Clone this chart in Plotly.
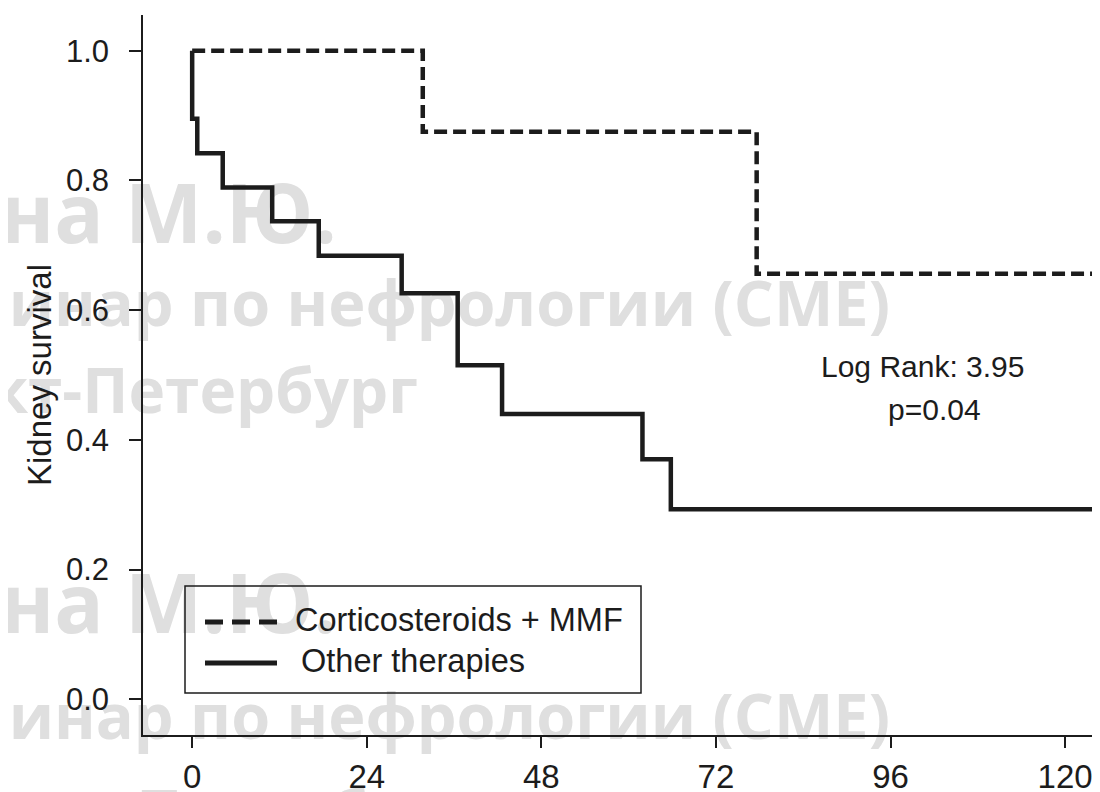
import plotly.graph_objects as go

# ---------------- data ----------------
cm_months = [0, 31.7, 77.6, 126]
cm_survival = [1.0, 0.875, 0.656, 0.656]

other_months = [0, 0, 0.7, 4.2, 11, 17.4, 28.8, 36.5, 42.6, 61.9, 65.8, 126]
other_survival = [1.0, 0.895, 0.842, 0.789, 0.737, 0.684, 0.626, 0.515, 0.44, 0.37, 0.293, 0.293]

series_names = ["Corticosteroids + MMF", "Other therapies"]
x_ticks = [0, 24, 48, 72, 96, 120]
y_ticks = [0.0, 0.2, 0.4, 0.6, 0.8, 1.0]
y_title = "Kidney survival"
stats_text = ["Log Rank: 3.95", "p=0.04"]
watermark_lines = ["на М.Ю.", "Семинар по нефрологии (СМЕ)", "Санкт-Петербург",
                   "на М.Ю.", "Семинар по нефрологии (СМЕ)", "Санкт-Петербург"]

# ---------------- layout geometry ----------------
# The page body has an 8px margin, so the figure is drawn 8px smaller and
# all reference-pixel positions are converted relative to the plot area.
OFF = 8
W, H = 1100 - OFF, 792 - OFF
REF_L, REF_R, REF_T, REF_B = 143, 1100, 15, 735
ML, MR, MT, MB = REF_L - OFF, 0, REF_T - OFF, 792 - REF_B
PW, PH = REF_R - REF_L, REF_B - REF_T
FONT = "Liberation Sans, Arial, Helvetica, sans-serif"
INK = "#1c1c1c"


def px(x):
    return (x - REF_L) / PW


def py(y):
    return (REF_B - y) / PH


fig = go.Figure()
fig.add_trace(go.Scatter(x=cm_months, y=cm_survival, mode="lines", line_shape="hv",
                         line=dict(color=INK, width=4.5, dash="13px,6px"),
                         name=series_names[0], showlegend=False))
fig.add_trace(go.Scatter(x=other_months, y=other_survival, mode="lines", line_shape="hv",
                         line=dict(color=INK, width=4.5),
                         name=series_names[1], showlegend=False))

shapes = []
# watermark (below traces)
wm_specs = [
    # text, anchor side, anchor px x, center px y, size
    (watermark_lines[0], "left", -3, 217, 82),
    (watermark_lines[1], "right", 893, 305, 63),
    (watermark_lines[2], "right", 421, 393, 62),
    (watermark_lines[3], "left", -3, 607, 82),
    (watermark_lines[4], "right", 893, 718, 63),
    (watermark_lines[5], "right", 475, 815, 62),
]
for text, side, ax, cy, size in wm_specs:
    if side == "left":
        x0, x1, pos = ax, ax + 1000, "middle left"
    else:
        x0, x1, pos = ax - 1200, ax, "middle right"
    shapes.append(dict(type="rect", xref="paper", yref="paper",
                       x0=px(x0), x1=px(x1), y0=py(cy + 50), y1=py(cy - 50),
                       line=dict(width=0), fillcolor="rgba(0,0,0,0)", layer="below",
                       label=dict(text=text, textposition=pos, padding=0,
                                  font=dict(family="Open Sans", size=size,
                                            color="#dfdfdf", weight="bold"))))

# custom legend
shapes.append(dict(type="rect", xref="paper", yref="paper",
                   x0=px(185), x1=px(641), y0=py(693), y1=py(586),
                   line=dict(color=INK, width=1.5), fillcolor="rgba(0,0,0,0)", layer="above"))
shapes.append(dict(type="line", xref="paper", yref="paper",
                   x0=px(205), x1=px(277), y0=py(622), y1=py(622),
                   line=dict(color=INK, width=5, dash="18px,9px"), layer="above"))
shapes.append(dict(type="line", xref="paper", yref="paper",
                   x0=px(205), x1=px(277), y0=py(663), y1=py(663),
                   line=dict(color=INK, width=5), layer="above"))

annotations = [
    dict(xref="paper", yref="paper", x=px(293), y=py(620), text=series_names[0],
         showarrow=False, xanchor="left", yanchor="middle",
         font=dict(family=FONT, size=32.5, color=INK)),
    dict(xref="paper", yref="paper", x=px(299), y=py(661), text=series_names[1],
         showarrow=False, xanchor="left", yanchor="middle",
         font=dict(family=FONT, size=32.5, color=INK)),
    dict(xref="x", yref="y", x=100.4, y=0.513, text=stats_text[0],
         showarrow=False, xanchor="center", yanchor="middle",
         font=dict(family=FONT, size=30, color=INK)),
    dict(xref="x", yref="y", x=102.0, y=0.447, text=stats_text[1],
         showarrow=False, xanchor="center", yanchor="middle",
         font=dict(family=FONT, size=30, color=INK)),
]

fig.update_layout(
    width=W, height=H,
    margin=dict(l=ML, r=MR, t=MT, b=MB, autoexpand=False),
    paper_bgcolor="white", plot_bgcolor="rgba(0,0,0,0)",
    font=dict(family=FONT, color=INK),
    shapes=shapes, annotations=annotations,
    showlegend=False,
)
fig.update_xaxes(range=[-6.76, 124.8], tickvals=x_ticks, ticks="outside", ticklen=11,
                 tickwidth=1.5, tickcolor=INK, showline=True, linecolor=INK, linewidth=1.5,
                 showgrid=False, zeroline=False, ticklabelstandoff=1,
                 tickfont=dict(family=FONT, size=33, color=INK))
fig.update_yaxes(range=[-0.055, 1.055], tickvals=y_ticks, tickformat=".1f", ticks="outside",
                 ticklen=12, tickwidth=1.5, tickcolor=INK, showline=True, linecolor=INK,
                 linewidth=1.5, showgrid=False, zeroline=False, ticklabelstandoff=14,
                 tickfont=dict(family=FONT, size=31, color=INK),
                 title=dict(text=y_title, standoff=4, font=dict(family=FONT, size=33, color=INK)),
                 automargin=False)

fig.write_html("out.html")
